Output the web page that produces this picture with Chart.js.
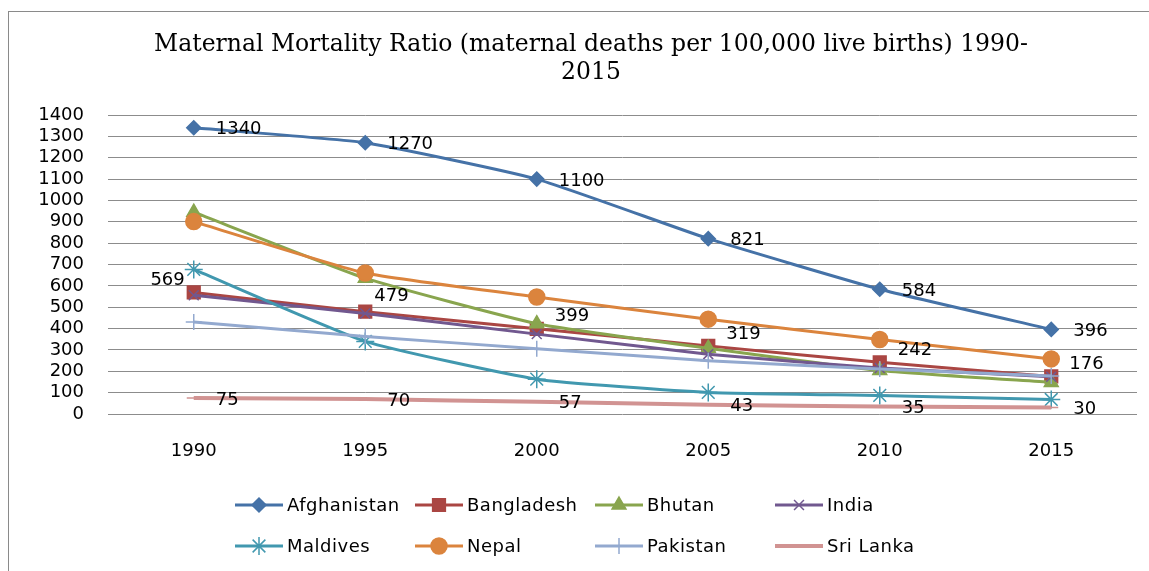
<!DOCTYPE html>
<html>
<head>
<meta charset="utf-8">
<script src="https://cdn.jsdelivr.net/npm/chart.js@4"></script>
<style>
  html, body { margin: 0; padding: 0; background: #fff; }
  #wrap { width: 1149px; height: 571px; position: relative; }
</style>
</head>
<body>
<div id="wrap"><canvas id="mmr-chart"></canvas></div>
<script>
// data
const years = ['1990', '1995', '2000', '2005', '2010', '2015'];
const countries = ['Afghanistan', 'Bangladesh', 'Bhutan', 'India', 'Maldives', 'Nepal', 'Pakistan', 'Sri Lanka'];
const afghanistan = [1340, 1270, 1100, 821, 584, 396];
const bangladesh = [569, 479, 399, 319, 242, 176];
const bhutan = [945, 636, 423, 308, 204, 148];
const india = [556, 471, 374, 280, 215, 174];
const maldives = [677, 340, 163, 101, 87, 68];
const nepal = [901, 660, 548, 444, 349, 258];
const pakistan = [431, 363, 306, 249, 211, 178];
const sriLanka = [75, 70, 57, 43, 35, 30];
const yMin = 0, yMax = 1400, yStep = 100;
const titleLines = ['Maternal Mortality Ratio (maternal deaths per 100,000 live births) 1990-', '2015'];

const seriesValues = [afghanistan, bangladesh, bhutan, india, maldives, nepal, pakistan, sriLanka];
const colors = ['#4572A7', '#AA4643', '#89A54E', '#71588F', '#4198AF', '#DB843D', '#93A9CF', '#D19392'];
const markers = ['rectRot', 'rect', 'triangle', 'crossRot', 'star', 'circle', 'cross', 'line'];
const markerRadius = [7, 9, 8, 7, 9, 8, 8, 7];

const sans = 'DejaVu Sans';

const datasets = countries.map((name, i) => ({
    label: name,
    data: seriesValues[i],
    borderColor: colors[i],
    backgroundColor: colors[i],
    borderWidth: i === 7 ? 4 : 3,
    tension: 0.15,
    pointStyle: markers[i],
    pointRadius: markerRadius[i],
    pointBackgroundColor: colors[i],
    pointBorderColor: colors[i],
    pointBorderWidth: 1.5,
    order: countries.length - i   // later series on top, like Excel
}));

// frame round the chart + title (Excel puts it a bit right of centre)
const framePlugin = {
    id: 'frame',
    beforeDraw(chart) {
        const ctx = chart.ctx;
        ctx.save();
        ctx.strokeStyle = '#8a8a8a';
        ctx.lineWidth = 1;
        ctx.strokeRect(8.5, 11.5, 1400, 800);
        ctx.font = '23.5px "DejaVu Serif"';
        ctx.fillStyle = '#000';
        ctx.textAlign = 'center';
        ctx.textBaseline = 'middle';
        titleLines.forEach((line, k) => ctx.fillText(line, 591, 45 + k * 28));
        ctx.restore();
    }
};

// data labels for Afghanistan, Bangladesh and Sri Lanka
const labelPlugin = {
    id: 'pointLabels',
    afterDatasetsDraw(chart) {
        const ctx = chart.ctx;
        ctx.save();
        ctx.font = '18px "' + sans + '"';
        ctx.fillStyle = '#000';
        ctx.textBaseline = 'middle';
        [0, 1, 7].forEach(di => {
            const meta = chart.getDatasetMeta(di);
            meta.data.forEach((pt, j) => {
                const txt = String(seriesValues[di][j]);
                let dx = 22, dy = 2, align = 'left';
                if (di === 1) {
                    dx = 18; dy = -12;
                    if (j === 0) { dx = -9; align = 'right'; }
                    if (j === 1) { dx = 9; dy = -15; }
                }
                ctx.textAlign = align;
                ctx.fillText(txt, pt.x + dx, pt.y + dy);
            });
        });
        ctx.restore();
    }
};

// Excel-like legend, 4 columns x 2 rows
const legendPlugin = {
    id: 'gridLegend',
    afterDraw(chart) {
        const ctx = chart.ctx;
        ctx.save();
        ctx.font = '18px "' + sans + '"';
        ctx.letterSpacing = '0.5px';
        ctx.textBaseline = 'middle';
        ctx.textAlign = 'left';
        chart.data.datasets.forEach((ds, i) => {
            const x0 = 235 + (i % 4) * 180;
            const y = 505 + Math.floor(i / 4) * 41;
            ctx.strokeStyle = ds.borderColor;
            ctx.fillStyle = ds.borderColor;
            ctx.lineWidth = ds.borderWidth;
            ctx.beginPath();
            ctx.moveTo(x0, y);
            ctx.lineTo(x0 + 48, y);
            ctx.stroke();
            ctx.lineWidth = ds.pointBorderWidth;
            Chart.helpers.drawPoint(ctx, {
                pointStyle: ds.pointStyle,
                radius: ds.pointRadius,
                rotation: 0,
                borderWidth: ds.pointBorderWidth
            }, x0 + 24, y);
            ctx.fillStyle = '#000';
            ctx.fillText(ds.label, x0 + 52, y + 1);
        });
        ctx.restore();
    }
};

const canvas = document.getElementById('mmr-chart');
new Chart(canvas, {
    type: 'line',
    data: { labels: years, datasets: datasets },
    options: {
        responsive: true,
        maintainAspectRatio: false,
        animation: false,
        layout: { padding: { left: 0, right: 12, top: 115, bottom: 100 } },
        plugins: {
            legend: { display: false },
            tooltip: { enabled: false },
            title: { display: false }
        },
        scales: {
            x: {
                offset: true,
                grid: { display: false, drawTicks: false },
                border: { display: false },
                ticks: { color: '#000', font: { family: sans, size: 18 }, padding: 27 },
                afterFit(scale) { scale.height = 57; }
            },
            y: {
                min: yMin,
                max: yMax,
                ticks: {
                    stepSize: yStep,
                    autoSkip: false,
                    color: '#000',
                    font: { family: sans, size: 18 },
                    padding: 24,
                    callback: v => String(v)
                },
                grid: { color: '#8c8c8c', drawTicks: false },
                border: { display: false },
                afterFit(scale) { scale.width = 108; }
            }
        }
    },
    plugins: [framePlugin, labelPlugin, legendPlugin]
});
</script>
</body>
</html>
